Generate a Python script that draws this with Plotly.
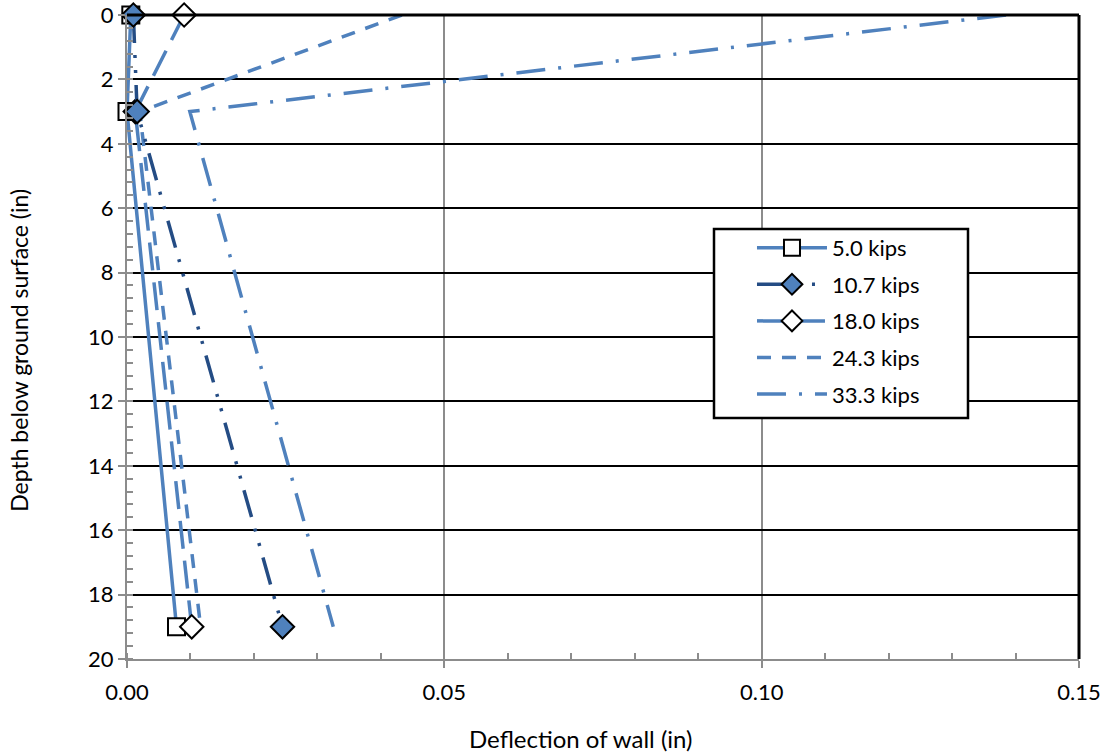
import plotly.graph_objects as go

# ---- data ----
depth = [0, 3, 19]
series_names = ["5.0 kips", "10.7 kips", "18.0 kips", "24.3 kips", "33.3 kips"]
defl_5_0 = [0.0006, 0.0, 0.0078]
defl_10_7 = [0.0010, 0.0016, 0.0245]
defl_18_0 = [0.0090, 0.0013, 0.0102]
defl_24_3 = [0.0433, 0.0020, 0.0116]
defl_33_3 = [0.1385, 0.0099, 0.0325]

x_ticks = [0, 0.05, 0.10, 0.15]
x_ticktext = ["0.00", "0.05", "0.10", "0.15"]

LIGHT = "#4F81BD"
DARK = "#244C84"
GRAY = "#8C8C8C"
FONT = "Lato"

styles = [
    dict(data=defl_5_0, color=LIGHT, dash="solid", marker=dict(symbol="square", size=17, color="white", line=dict(color="black", width=2)), mode="lines+markers"),
    dict(data=defl_10_7, color=DARK, dash="28px,12px,3px,12px,3px,12px", marker=dict(symbol="diamond", size=18, color=LIGHT, line=dict(color="black", width=2)), mode="lines+markers"),
    dict(data=defl_18_0, color=LIGHT, dash="28px,12px", marker=dict(symbol="diamond", size=18, color="white", line=dict(color="black", width=2)), mode="lines+markers"),
    dict(data=defl_24_3, color=LIGHT, dash="14px,11px", marker=None, mode="lines"),
    dict(data=defl_33_3, color=LIGHT, dash="29px,13px,3px,13px", marker=None, mode="lines"),
]
# drawing order: 10.7 kips drawn last so its markers sit on top (legend order kept via legendrank)
draw_order = [0, 2, 3, 4, 1]

fig = go.Figure()
for i in draw_order:
    name, st = series_names[i], styles[i]
    kw = dict(
        x=st["data"], y=depth, name=name, mode=st["mode"],
        line=dict(color=st["color"], width=3.5, dash=st["dash"]),
        legendgroup=f"g{i}", legendrank=i + 1, cliponaxis=False,
    )
    if st["marker"] is not None:
        kw["marker"] = st["marker"]
    fig.add_trace(go.Scatter(**kw))

fig.update_layout(
    width=1107, height=752,
    margin=dict(l=127, r=28, t=15, b=93, autoexpand=False),
    plot_bgcolor="white", paper_bgcolor="white",
    font=dict(family=FONT, size=22, color="black"),
    showlegend=True,
    legend=dict(
        x=0.6565, y=0.671, xanchor="left", yanchor="top",
        borderwidth=0, bgcolor="rgba(0,0,0,0)",
        font=dict(family=FONT, size=22, color="black"),
        tracegroupgap=5, itemwidth=70,
    ),
    xaxis=dict(
        range=[0, 0.15], tickvals=x_ticks, ticktext=x_ticktext, automargin=False,
        showgrid=True, gridcolor=GRAY, gridwidth=2,
        showline=True, linecolor=GRAY, linewidth=2,
        ticks="outside", ticklen=7, tickcolor=GRAY, tickwidth=1.5,
        minor=dict(dtick=0.01, ticks="inside", ticklen=6, tickcolor=GRAY, tickwidth=1.5, showgrid=False),
        zeroline=False, ticklabelstandoff=6, ticklabeloverflow="allow",
    ),
    yaxis=dict(
        range=[20, 0], dtick=2, automargin=False,
        showgrid=True, gridcolor="black", gridwidth=2,
        showline=True, linecolor=GRAY, linewidth=2,
        ticks="outside", ticklen=7, tickcolor=GRAY, tickwidth=1.5,
        minor=dict(dtick=0.4, ticks="inside", ticklen=6, tickcolor=GRAY, tickwidth=1.5, showgrid=False),
        zeroline=False, ticklabelstandoff=0, ticklabeloverflow="allow",
    ),
    annotations=[
        dict(text="Deflection of wall (in)", xref="paper", yref="paper", x=0.476, y=-0.1227,
             xanchor="center", yanchor="middle", showarrow=False, font=dict(family=FONT, size=24)),
        dict(text="Depth below ground surface (in)", xref="paper", yref="paper", x=-0.1135, y=0.48,
             xanchor="center", yanchor="middle", textangle=-90, showarrow=False, font=dict(family=FONT, size=23)),
    ],
    shapes=[
        dict(type="line", xref="x domain", yref="y domain", x0=1, x1=1, y0=0, y1=1, line=dict(color="black", width=3)),
        dict(type="line", xref="x domain", yref="y domain", x0=0, x1=1, y0=1, y1=1, line=dict(color="black", width=3)),
        # legend frame
        dict(type="rect", xref="paper", yref="paper", x0=0.6166, x1=0.8834, y0=0.3742, y1=0.6677,
             fillcolor="white", line=dict(color="black", width=2.5), layer="above"),
    ],
)

# remove the browser's default 8px body margin so the figure sits at the page origin
fig.write_html("out.html", config={"displayModeBar": False},
               post_script="document.body.style.margin='0';")
